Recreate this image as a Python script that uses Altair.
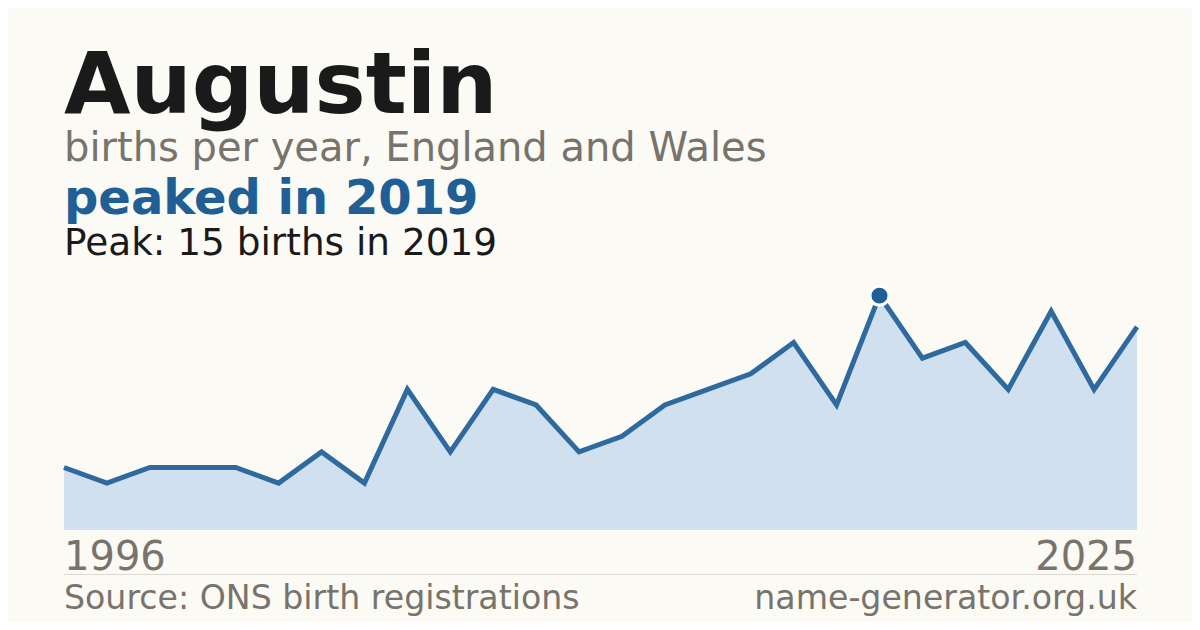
import altair as alt
import pandas as pd

years = [1996, 1998, 1999, 2000, 2001, 2002, 2004, 2005, 2006, 2007, 2008, 2010, 2011,
         2012, 2013, 2014, 2015, 2016, 2018, 2019, 2020, 2021, 2022, 2023, 2024, 2025]
births = [4, 3, 4, 4, 4, 3, 5, 3, 9, 5, 9, 8, 5, 6, 8, 9, 10, 12, 8, 15, 11, 12, 9, 14, 9, 13]

name = "Augustin"
subtitle = "births per year, England and Wales"
headline = "peaked in 2019"
peak_line = "Peak: 15 births in 2019"
source = "Source: ONS birth registrations"
site = "name-generator.org.uk"

BG = "#fbfaf5"
GRAY = "#78736b"
BLUE = "#1f5f96"
FONT = "DejaVu Sans"

df = pd.DataFrame({"year": years, "births": births})
peak_i = births.index(max(births))
peak_df = df.iloc[[peak_i]]

W, H = 1073, 250

x = alt.X("year:O", scale=alt.Scale(type="point", padding=0), axis=None)
y = alt.Y("births:Q", scale=alt.Scale(domain=[0, 16], nice=False, zero=True), axis=None)

base = alt.Chart(df)
area = base.mark_area(color="#d0e0ef", opacity=1).encode(x=x, y=y)
line = base.mark_line(color="#2f6a9e", strokeWidth=5, strokeJoin="miter").encode(x=x, y=y)
peak = alt.Chart(peak_df).mark_point(
    filled=True, shape="circle", size=360, color=BLUE, stroke="white", strokeWidth=3, opacity=1
).encode(x=x, y=y)

def txt(t, yv, size, color, bold=False, xv=0, align="left"):
    return alt.Chart(pd.DataFrame({"t": [t]})).mark_text(
        align=align, baseline="alphabetic", font=FONT, fontSize=size,
        fontWeight="bold" if bold else "normal", color=color
    ).encode(text="t:N", x=alt.value(xv), y=alt.value(yv))

first_df = df.iloc[[0]]
last_df = df.iloc[[-1]]
lab_first = alt.Chart(first_df).mark_text(
    align="left", baseline="alphabetic", font=FONT, fontSize=40, color=GRAY
).encode(x=x, y=alt.value(290), text="year:N")
lab_last = alt.Chart(last_df).mark_text(
    align="right", baseline="alphabetic", font=FONT, fontSize=40, color=GRAY
).encode(x=x, y=alt.value(290), text="year:N")

rule = alt.Chart(pd.DataFrame({"a": [0]})).mark_rule(color="#dcd9d2", strokeWidth=1).encode(
    x=alt.value(0), x2=alt.value(W), y=alt.value(294.5)
)

chart = alt.layer(
    area, line, peak,
    txt(name, -167, 86, "#1a1a1a", bold=True),
    txt(subtitle, -119, 40, GRAY),
    txt(headline, -66, 48, BLUE, bold=True),
    txt(peak_line, -25, 37.4, "#1a1a1a"),
    lab_first, lab_last, rule,
    txt(source, 329, 33.2, GRAY),
    txt(site, 329, 33.2, GRAY, xv=W, align="right"),
).properties(
    width=W, height=H,
    padding={"left": 56, "top": 272, "right": 55, "bottom": 92},
    autosize=alt.AutoSizeParams(type="none"),
    background=BG,
).configure_view(stroke=None)

chart.save("out.html", embed_options={"renderer": "svg", "actions": False})
